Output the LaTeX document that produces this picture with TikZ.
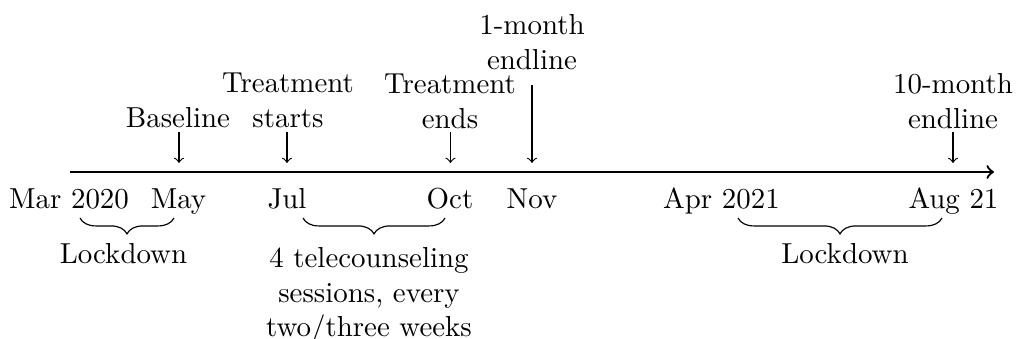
\documentclass[tikz,border=0pt]{standalone}
\usetikzlibrary{decorations.pathreplacing}
\begin{document}
\begin{tikzpicture}[x=0.346pt,y=-0.346pt,
  toplab/.style={anchor=south,inner sep=0pt,align=center},
  datelab/.style={anchor=base,inner sep=0pt},
  bracelab/.style={anchor=base,inner sep=0pt,align=center},
  evarrow/.style={->},
  axisline/.style={thick,->},
  bracestyle/.style={decorate,decoration={brace,mirror,amplitude=5.5pt}}]
\useasboundingbox (0,0) rectangle (1016,339);
% axis
\coordinate (axL) at (70,172);
\coordinate (axR) at (994,172);
\draw[axisline] (axL) -- (axR);
% top labels
\node[toplab] (base) at (178,128.5) {Baseline};
\node[toplab] (ts) at (288,128.5) {Treatment\\starts};
\node[toplab] (te) at (450,129) {Treatment\\ends};
\node[toplab] (om) at (532,70) {1-month\\endline};
\node[toplab] (tm) at (953,129) {10-month\\endline};
% arrows
\coordinate (a1) at (179,132); \coordinate (b1) at (179,163);
\coordinate (a2) at (287,132); \coordinate (b2) at (287,163);
\coordinate (a3) at (450.5,132); \coordinate (b3) at (450.5,163);
\coordinate (a4) at (532,85); \coordinate (b4) at (532,163);
\coordinate (a5) at (953,132); \coordinate (b5) at (953,163);
\draw[evarrow] (a1) -- (b1);
\draw[evarrow] (a2) -- (b2);
\draw[evarrow] (a3) -- (b3);
\draw[evarrow] (a4) -- (b4);
\draw[evarrow] (a5) -- (b5);
% dates
\node[datelab] (mar) at (69,208.5) {Mar 2020};
\node[datelab] (may) at (178.5,208.5) {May};
\node[datelab] (jul) at (287,208.5) {Jul};
\node[datelab] (oct) at (450,208.5) {Oct};
\node[datelab] (nov) at (532,208.5) {Nov};
\node[datelab] (apr) at (721.5,208.5) {Apr 2021};
\node[datelab] (aug) at (953.5,208.5) {Aug 21};
% braces
\coordinate (l1a) at (80,218); \coordinate (l1b) at (174,218);
\coordinate (t1a) at (303,218); \coordinate (t1b) at (445,218);
\coordinate (l2a) at (738,218); \coordinate (l2b) at (942,218);
\draw[bracestyle] (l1a) -- (l1b);
\draw[bracestyle] (t1a) -- (t1b);
\draw[bracestyle] (l2a) -- (l2b);
\node[bracelab] (lock1) at (123.5,263.5) {Lockdown};
\node[anchor=north,inner sep=0pt,align=center] (tele) at (369,246.7) {4 telecounseling\\sessions, every\\two/three weeks};
\node[bracelab] (lock2) at (845,263.5) {Lockdown};
\end{tikzpicture}
\end{document}
